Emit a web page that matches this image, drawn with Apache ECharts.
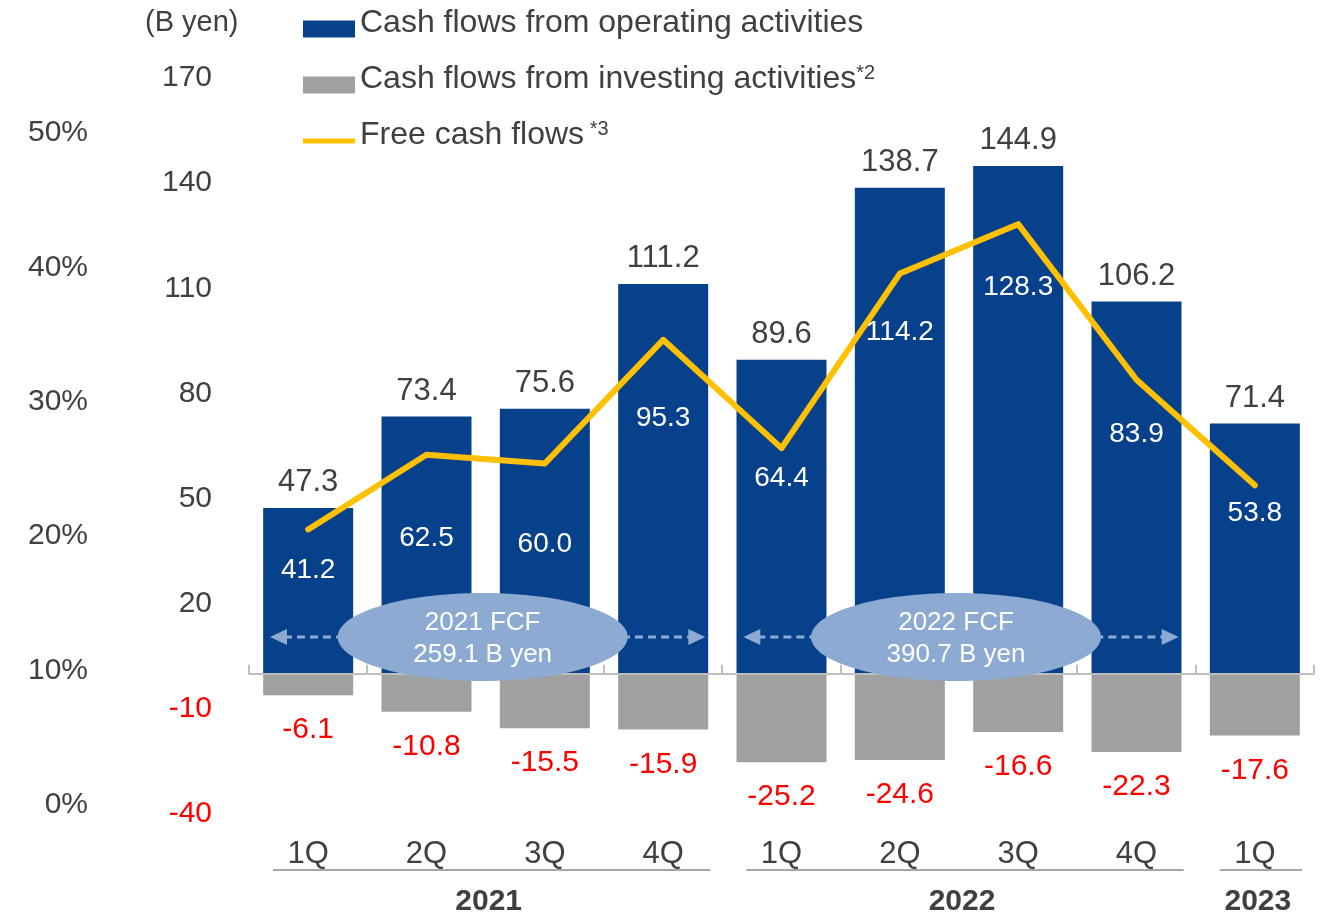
<!DOCTYPE html>
<html lang="en">
<head>
<meta charset="UTF-8">
<title>Cash flows</title>
<style>html,body{margin:0;padding:0;background:#fff}</style>
</head>
<body>
<div id="chart" style="width:1320px;height:917px"></div>
<script src="https://cdn.jsdelivr.net/npm/echarts@6/dist/echarts.min.js"></script>
<script>
// data
const quarters = ['1Q', '2Q', '3Q', '4Q', '1Q', '2Q', '3Q', '4Q', '1Q'];
const operating = [47.3, 73.4, 75.6, 111.2, 89.6, 138.7, 144.9, 106.2, 71.4];
const investing = [-6.1, -10.8, -15.5, -15.9, -25.2, -24.6, -16.6, -22.3, -17.6];
const fcf = [41.2, 62.5, 60.0, 95.3, 64.4, 114.2, 128.3, 83.9, 53.8];
const years = ['2021', '2022', '2023'];
const yearSpans = [[0, 3], [4, 7], [8, 8]];
const fcfTotals = ['259.1', '390.7'];

const opName = 'Cash flows from operating activities';
const invName = 'Cash flows from investing activities';
const fcfName = 'Free cash flows';
const sup = { [invName]: '*2', [fcfName]: ' *3' };

// styling
const blue = '#07418B', gray = '#A0A0A0', yellow = '#FFC000';
const dark = '#404040', red = '#FF0000', axisGray = '#BFBFBF', pale = '#8CAAD2';
const font = 'Liberation Sans';
const fcfLabelDy = [41, 84, 81, 78, 30, 59, 63, 55, 28]; // label drop below the line point, px
const fmt = p => Number(p.value).toFixed(1);

const chart = echarts.init(document.getElementById('chart'));

const option = {
    animation: false,
    textStyle: { fontFamily: font },
    title: {
        text: '(B yen)', left: 145, top: 8, padding: 0,
        textStyle: { fontSize: 29, fontWeight: 'normal', color: dark, fontFamily: font }
    },
    legend: {
        orient: 'vertical', left: 303, top: 7, padding: 0,
        itemGap: 12, itemWidth: 52, itemHeight: 17,
        data: [
            { name: opName, icon: 'rect' },
            { name: invName, icon: 'rect' },
            { name: fcfName, icon: 'path://M0,0H52V5H0Z' }
        ],
        formatter: name => '{t|' + name + '}' + (sup[name] ? '{s|' + sup[name] + '}' : ''),
        textStyle: {
            rich: {
                t: { fontSize: 32, lineHeight: 34, color: dark, fontFamily: font, padding: [0, 0, 12, 0] },
                s: { fontSize: 20, lineHeight: 22, color: dark, fontFamily: font, padding: [0, 0, 24, 0] }
            }
        }
    },
    grid: [
        { left: 249, right: 6, top: 78, bottom: 103 },
        { left: 100, width: 20, top: 133, bottom: 112 }
    ],
    xAxis: [
        {
            type: 'category', data: quarters, gridIndex: 0, position: 'bottom',
            axisLine: { show: false, onZero: false }, axisTick: { show: false },
            axisLabel: { margin: 25, fontSize: 31, color: dark }
        },
        {
            type: 'category', data: quarters, gridIndex: 0, position: 'bottom', z: 5,
            axisLine: { onZero: true, lineStyle: { color: axisGray, width: 2 } },
            axisTick: { length: 9, lineStyle: { color: axisGray, width: 2 } },
            axisLabel: { show: false }
        },
        { type: 'category', data: [''], gridIndex: 1, show: false }
    ],
    yAxis: [
        {
            type: 'value', gridIndex: 0, min: -40, max: 170, interval: 30,
            axisLine: { show: false }, axisTick: { show: false }, splitLine: { show: false },
            axisLabel: { margin: 37, fontSize: 30, lineHeight: 36, verticalAlign: 'middle', color: v => (v < 0 ? red : dark) }
        },
        {
            type: 'value', gridIndex: 1, min: 0, max: 50, interval: 10,
            axisLine: { show: false }, axisTick: { show: false }, splitLine: { show: false },
            axisLabel: { margin: 12, fontSize: 30, lineHeight: 36, color: dark, formatter: '{value}%' }
        }
    ],
    series: [
        {
            name: opName, type: 'bar', stack: 'cf', barWidth: 90, data: operating,
            itemStyle: { color: blue },
            label: { show: true, position: 'top', distance: 10, fontSize: 31, color: dark, formatter: fmt }
        },
        {
            name: invName, type: 'bar', stack: 'cf', data: investing,
            itemStyle: { color: gray },
            label: { show: true, position: 'bottom', distance: 20, fontSize: 30, color: red, formatter: fmt }
        },
        {
            name: fcfName, type: 'line', data: fcf, symbol: 'none', z: 4,
            itemStyle: { color: yellow },
            lineStyle: { color: yellow, width: 6, cap: 'round', join: 'round' }
        },
        {
            name: 'fcfLabels', type: 'scatter', z: 6, symbolSize: 1,
            data: fcf.map((v, i) => ({ value: v, label: { offset: [0, fcfLabelDy[i]] } })),
            itemStyle: { color: 'rgba(0,0,0,0)', opacity: 1 },
            label: { show: true, position: 'inside', fontSize: 28, color: '#ffffff', opacity: 1, formatter: fmt }
        }
    ]
};

chart.setOption(option);

// annotations placed from the chart's own scale
const px = (i, v) => chart.convertToPixel({ xAxisIndex: 0, yAxisIndex: 0 }, [i, v]);
const step = px(1, 0)[0] - px(0, 0)[0];
const zeroY = px(0, 0)[1];
const bottomY = px(0, -40)[1];
const graphics = [];

// upper half of the category ticks, crossing the zero line
for (let i = 0; i <= quarters.length; i++) {
    const x = Math.round(px(0, 0)[0] - step / 2 + i * step);
    graphics.push({
        type: 'line', z: 9,
        shape: { x1: x, y1: zeroY - 9, x2: x, y2: zeroY },
        style: { stroke: axisGray, lineWidth: 2 }
    });
}

yearSpans.forEach(([a, b], k) => {
    const x0 = px(a, 0)[0] - step / 2;
    const x1 = px(b, 0)[0] + step / 2;
    graphics.push({
        type: 'line', z: 10,
        shape: { x1: x0 + 24, y1: bottomY + 56, x2: x1 - 12, y2: bottomY + 56 },
        style: { stroke: '#A6A6A6', lineWidth: 2 }
    });
    graphics.push({
        type: 'text', z: 10,
        style: {
            text: years[k], x: (x0 + x1) / 2 + 3, y: bottomY + 88,
            textAlign: 'center', textVerticalAlign: 'middle',
            fill: dark, font: 'bold 30px ' + font
        }
    });
    if (k < fcfTotals.length) {
        const cy = px(0, 10.5)[1];
        const cx = (px(a + 1, 0)[0] + px(a + 2, 0)[0]) / 2 - 3;
        const ax0 = x0 + 21, ax1 = x1 - 17;
        graphics.push({
            type: 'line', z: 10,
            shape: { x1: ax0 + 14, y1: cy, x2: ax1 - 14, y2: cy },
            style: { stroke: pale, lineWidth: 3, lineDash: [8, 5] }
        });
        graphics.push({
            type: 'polygon', z: 10,
            shape: { points: [[ax0, cy], [ax0 + 17, cy - 8], [ax0 + 17, cy + 8]] },
            style: { fill: pale }
        });
        graphics.push({
            type: 'polygon', z: 10,
            shape: { points: [[ax1, cy], [ax1 - 17, cy - 8], [ax1 - 17, cy + 8]] },
            style: { fill: pale }
        });
        graphics.push({
            type: 'ellipse', z: 11,
            shape: { cx: cx, cy: cy, rx: 145, ry: 44 },
            style: { fill: pale }
        });
        graphics.push({
            type: 'text', z: 12,
            style: {
                text: years[k] + ' FCF\n' + fcfTotals[k] + ' B yen', x: cx, y: cy + 2,
                textAlign: 'center', textVerticalAlign: 'middle',
                fill: '#fff', font: '26px ' + font, lineHeight: 32
            }
        });
    }
});

chart.setOption({ graphic: graphics });
</script>
</body>
</html>
